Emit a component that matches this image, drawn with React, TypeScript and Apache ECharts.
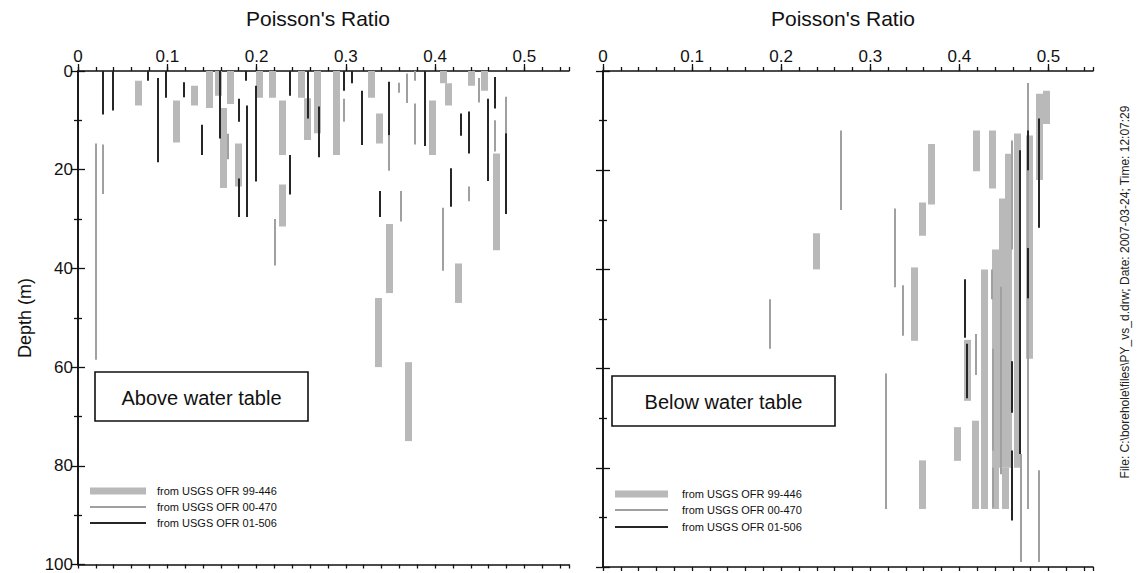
import React, { useEffect, useRef } from "react";
import * as echarts from "echarts";

// [poisson ratio, top depth (m), bottom depth (m)]
const leftOFR99446: number[][] = [
  [0.068, 2, 7], [0.11, 6, 14.5], [0.13, 3, 7], [0.147, 0, 7.5], [0.157, 0, 5],
  [0.163, 7.5, 23.7], [0.171, 0, 6.7], [0.18, 14.7, 23.4], [0.203, 0, 5.4], [0.218, 0, 5.4],
  [0.229, 6, 17], [0.229, 23, 31.5], [0.25, 0, 5.4], [0.257, 5.5, 14], [0.2685, 0, 12.6],
  [0.289, 0, 17], [0.329, 0, 5.4], [0.338, 8.6, 14.7], [0.397, 6, 17], [0.409, 0, 2.5],
  [0.415, 2.5, 7], [0.4685, 16.7, 36.3], [0.349, 31, 45], [0.336, 46, 60], [0.37, 59, 75],
  [0.426, 39, 47], [0.44, 0, 3], [0.455, 0, 4],
];
const leftOFR00470: number[][] = [
  [0.02, 14.7, 58.5], [0.0276, 14.9, 24.9], [0.168, 12.7, 17.9], [0.22, 30, 39.4],
  [0.2976, 5.6, 10.3], [0.348, 13, 20.2], [0.359, 2.4, 4.4], [0.368, 0.5, 6.5], [0.377, 0, 2],
  [0.377, 6.6, 14.9], [0.361, 24.3, 30.5], [0.409, 27.7, 40.5], [0.438, 23.4, 26.4],
  [0.449, 1.4, 6.4], [0.467, 10, 16.3], [0.479, 5.2, 12.6],
];
const leftOFR01506: number[][] = [
  [0.0276, 0, 8.8], [0.039, 0, 8], [0.078, 0, 2], [0.089, 1.4, 18.5], [0.098, 0, 5.4],
  [0.118, 2.3, 5.3], [0.139, 10.9, 17], [0.159, 0, 13.7], [0.18, 5.6, 10.3], [0.18, 21.8, 29.6],
  [0.1877, 0, 2], [0.1885, 7, 29.6], [0.1996, 3, 22.4], [0.237, 0, 5], [0.237, 17, 25],
  [0.2573, 0, 9.6], [0.2696, 7.2, 17.5], [0.2976, 0, 4], [0.307, 0, 2.5], [0.318, 4, 15],
  [0.3385, 24.3, 29.6], [0.348, 2.2, 13], [0.3888, 0, 15.2], [0.4175, 19.7, 27.5],
  [0.4287, 8.6, 13.1], [0.438, 8.2, 16.7], [0.4585, 5.6, 22.3], [0.467, 1.2, 7.6], [0.479, 12.6, 29],
];
const rightOFR99446: number[][] = [
  [0.239, 32.7, 40], [0.349, 39.6, 54.4], [0.358, 26.5, 33.2], [0.368, 14.7, 26.9],
  [0.358, 78.5, 88.3], [0.398, 71.8, 78.6], [0.4087, 54.2, 66.5], [0.4188, 12, 20.2],
  [0.418, 70.5, 88.3], [0.428, 40, 88.3], [0.437, 12, 23.7], [0.44, 36, 88.3],
  [0.4483, 25.7, 80], [0.4546, 16.7, 80], [0.4655, 12.6, 80], [0.479, 13, 58],
  [0.49, 4.6, 22], [0.498, 4, 10.7], [0.452, 80, 88.3],
];
const rightOFR00470: number[][] = [
  [0.187, 46, 56], [0.267, 12, 28], [0.328, 27.7, 43.6], [0.337, 43.2, 53.4], [0.317, 61, 88.3],
  [0.4184, 53, 61.3], [0.4367, 40, 46], [0.438, 56, 76.5], [0.438, 80, 88], [0.4468, 43.5, 81.3],
  [0.4584, 14, 36], [0.469, 77.2, 99], [0.477, 2.4, 88.3], [0.4886, 80.5, 99],
];
const rightOFR01506: number[][] = [
  [0.4065, 42, 53.8], [0.4087, 55, 66], [0.4588, 58.5, 68.9], [0.4588, 76.5, 90.6],
  [0.468, 16, 77.2], [0.477, 12, 20], [0.477, 35.7, 45.8], [0.4886, 9.6, 31.6],
];

const seriesNames = ["from USGS OFR 99-446", "from USGS OFR 00-470", "from USGS OFR 01-506"];
const xTitle = "Poisson's Ratio";
const yTitle = "Depth (m)";
const panelLabels = ["Above water table", "Below water table"];
const fileNote = "File: C:\\borehole\\files\\PY_vs_d.drw; Date: 2007-03-24; Time: 12:07:29";

const COLORS = ["#b9b9b9", "#a0a0a0", "#262626"];
const WIDTHS = [7, 2, 2];
const FONT = "Liberation Sans, Arial, sans-serif";

export default function App() {
  const ref = useRef<HTMLDivElement>(null);
  useEffect(() => {
    const chart = echarts.init(ref.current!, null, { renderer: "svg" });
    const grids = [
      { left: 78, top: 71, width: 491, height: 496 },
      { left: 603, top: 71, width: 490, height: 496 },
    ];
    const axisLine = { show: true, lineStyle: { color: "#111", width: 1.6 } };
    const tickStyle = { color: "#111", width: 1.3 };
    const mkXMain = (g: number) => ({
      type: "value", gridIndex: g, position: "top", min: 0, max: 0.55, interval: 0.1,
      axisLine, splitLine: { show: false },
      axisTick: { show: true, length: 7, lineStyle: tickStyle },
      axisLabel: { show: true, color: "#111", fontSize: 17, fontFamily: FONT, margin: 6, showMaxLabel: false },
    });
    const mkXFine = (g: number, pos: string) => ({
      type: "value", gridIndex: g, position: pos, min: 0, max: 0.55, interval: 0.02,
      axisLine: pos === "bottom" ? axisLine : { show: false }, splitLine: { show: false },
      axisTick: { show: true, length: 4, lineStyle: tickStyle },
      axisLabel: { show: false },
    });
    const mkY = (g: number, pos: string, labels: boolean) => ({
      type: "value", gridIndex: g, position: pos, inverse: true, min: 0, max: 100, interval: 20,
      axisLine, splitLine: { show: false },
      axisTick: { show: true, length: 7, lineStyle: tickStyle },
      minorTick: { show: true, splitNumber: 2, length: 4, lineStyle: tickStyle },
      axisLabel: { show: labels, color: "#111", fontSize: 17, fontFamily: FONT, margin: 5 },
    });
    const mkSeries = (g: number, sets: number[][][]) =>
      sets.map((arr, i) => ({
        type: "lines", name: seriesNames[i], coordinateSystem: "cartesian2d",
        xAxisIndex: g * 3, yAxisIndex: g * 2, silent: true, z: 2 + i,
        lineStyle: { color: COLORS[i], width: WIDTHS[i], opacity: 1, cap: "butt" },
        data: arr.map(([x, a, b]) => ({ coords: [[x, a], [x, b]] })),
      }));

    const legendG = (x0: number, x1: number, tx: number, ys: number[]) =>
      ys.flatMap((y, i) => [
        { type: "line", shape: { x1: x0, y1: y, x2: x1, y2: y }, style: { stroke: COLORS[i], lineWidth: WIDTHS[i] }, z: 10 },
        { type: "text", x: tx, y, style: { text: seriesNames[i], fill: "#111", fontSize: 11, fontFamily: FONT, verticalAlign: "middle" }, z: 10 },
      ]);
    const box = (x: number, y: number, w: number, h: number, t: string) => [
      { type: "rect", shape: { x, y, width: w, height: h }, style: { fill: "#fff", stroke: "#111", lineWidth: 1.6 }, z: 10 },
      { type: "text", x: x + w / 2, y: y + h / 2 + 1, style: { text: t, fill: "#111", fontSize: 20, fontFamily: FONT, align: "center", verticalAlign: "middle" }, z: 11 },
    ];

    chart.setOption({
      animation: false,
      backgroundColor: "#fff",
      grid: grids,
      xAxis: [
        mkXMain(0), mkXFine(0, "top"), mkXFine(0, "bottom"),
        mkXMain(1), mkXFine(1, "top"), mkXFine(1, "bottom"),
      ],
      yAxis: [mkY(0, "left", true), mkY(0, "right", false), mkY(1, "left", false), mkY(1, "right", false)],
      series: [
        ...mkSeries(0, [leftOFR99446, leftOFR00470, leftOFR01506]),
        ...mkSeries(1, [rightOFR99446, rightOFR00470, rightOFR01506]),
      ],
      graphic: [
        { type: "text", x: 318, y: 18, style: { text: xTitle, fill: "#111", fontSize: 21, fontFamily: FONT, align: "center", verticalAlign: "middle" } },
        { type: "text", x: 843, y: 18, style: { text: xTitle, fill: "#111", fontSize: 21, fontFamily: FONT, align: "center", verticalAlign: "middle" } },
        { type: "text", x: 25, y: 318, rotation: Math.PI / 2, style: { text: yTitle, fill: "#111", fontSize: 18, fontFamily: FONT, align: "center", verticalAlign: "middle" } },
        { type: "text", x: 1125, y: 292, rotation: Math.PI / 2, style: { text: fileNote, fill: "#222", fontSize: 12, fontFamily: FONT, align: "center", verticalAlign: "middle" } },
        ...box(95, 372, 213, 49, panelLabels[0]),
        ...box(612, 376, 223, 50, panelLabels[1]),
        ...legendG(90, 146, 157, [491, 507, 523]),
        ...legendG(615, 668, 682, [494, 510, 527]),
      ],
    });
    return () => chart.dispose();
  }, []);
  return <div ref={ref} style={{ position: "absolute", left: 0, top: 0, width: 1141, height: 573, background: "#fff" }} />;
}
